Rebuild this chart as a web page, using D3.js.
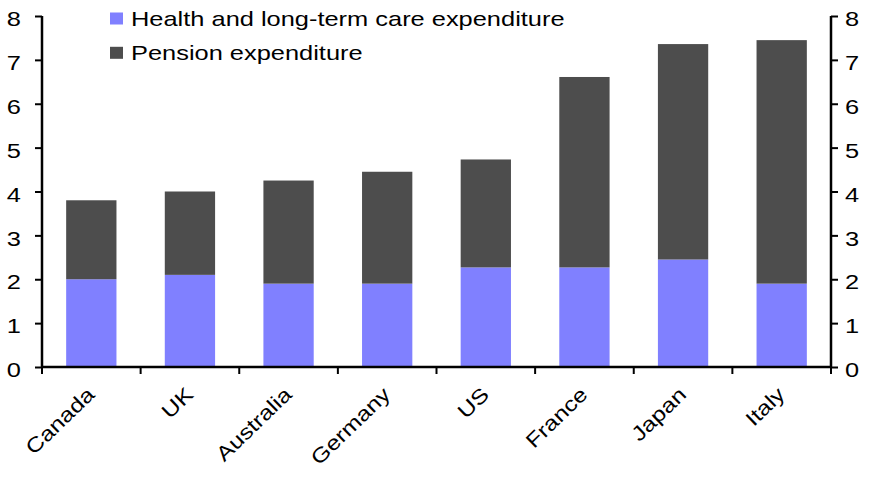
<!DOCTYPE html>
<html>
<head>
<meta charset="utf-8">
<script src="https://cdn.jsdelivr.net/npm/d3@7"></script>
<style>
  body { margin: 0; background: #fff; }
  svg text { font-family: "Liberation Sans", Arial, sans-serif; fill: #000; }
</style>
</head>
<body>
<div id="chart"></div>
<script>
// Chart data
var countries = ["Canada", "UK", "Australia", "Germany", "US", "France", "Japan", "Italy"];
var healthCare = [2.0, 2.1, 1.9, 1.9, 2.27, 2.27, 2.45, 1.9];
var pension = [1.8, 1.9, 2.35, 2.55, 2.46, 4.34, 4.91, 5.55];
var yTicks = [0, 1, 2, 3, 4, 5, 6, 7, 8];
var seriesNames = ["Health and long-term care expenditure", "Pension expenditure"];
var seriesColors = ["#8080ff", "#4d4d4d"];

var svgWidth = 874;
var svgHeight = 481;
var margin = { top: 16, right: 43, bottom: 114, left: 42 };
var width = svgWidth - margin.left - margin.right;
var height = svgHeight - margin.top - margin.bottom;

// the text in the original is wider than plain Arial
var stretch = 1.24;
var fontSize = 20.5;

var svg = d3.select("#chart")
  .append("svg")
  .attr("width", svgWidth)
  .attr("height", svgHeight);

var chartGroup = svg.append("g")
  .attr("transform", `translate(${margin.left}, ${margin.top})`);

var xScale = d3.scaleBand()
  .domain(countries)
  .range([0, width])
  .paddingInner(0.49)
  .paddingOuter(0.245);

var yScale = d3.scaleLinear()
  .domain([0, 8])
  .range([height, 0]);

// stack the two series
var rows = countries.map((c, i) => ({ country: c, health: healthCare[i], pension: pension[i] }));
var stacked = d3.stack().keys(["health", "pension"])(rows);

chartGroup.selectAll("g.series")
  .data(stacked)
  .enter()
  .append("g")
  .attr("class", "series")
  .attr("fill", (d, i) => seriesColors[i])
  .selectAll("rect")
  .data(d => d)
  .enter()
  .append("rect")
  .attr("x", d => xScale(d.data.country))
  .attr("width", xScale.bandwidth())
  .attr("y", d => yScale(d[1]))
  .attr("height", d => yScale(d[0]) - yScale(d[1]));

// left axis
var leftAxis = d3.axisLeft(yScale).tickValues(yTicks).tickSize(7).tickFormat(d3.format("d"));
var yAxisL = chartGroup.append("g").call(leftAxis);

// right axis
var rightAxis = d3.axisRight(yScale).tickValues(yTicks).tickSize(7).tickFormat(d3.format("d"));
var yAxisR = chartGroup.append("g")
  .attr("transform", `translate(${width}, 0)`)
  .call(rightAxis);

[yAxisL, yAxisR].forEach(a => {
  a.select(".domain").attr("stroke", "#000").attr("stroke-width", 2.5).attr("d", `M0,${height}V0`);
  a.selectAll(".tick line").attr("stroke", "#000").attr("stroke-width", 2);
  a.selectAll(".tick text")
    .attr("font-size", fontSize + "px")
    .attr("fill", "#000")
    .attr("x", 0)
    .attr("dy", "0.47em");
});
yAxisL.selectAll(".tick text").attr("transform", `translate(-21, 0) scale(${stretch}, 1)`);
yAxisR.selectAll(".tick text").attr("transform", `translate(14, 0) scale(${stretch}, 1)`);

// x axis: ticks at category boundaries
var xAxisG = chartGroup.append("g")
  .attr("transform", `translate(0, ${height})`);

xAxisG.append("line")
  .attr("x1", 0)
  .attr("x2", width)
  .attr("stroke", "#000")
  .attr("stroke-width", 2.5);

var step = xScale.step();
xAxisG.selectAll("line.tick")
  .data(d3.range(countries.length + 1))
  .enter()
  .append("line")
  .attr("class", "tick")
  .attr("x1", i => i * step)
  .attr("x2", i => i * step)
  .attr("y1", 0)
  .attr("y2", 7)
  .attr("stroke", "#000")
  .attr("stroke-width", 2);

xAxisG.selectAll("text.xlab")
  .data(countries)
  .enter()
  .append("text")
  .attr("class", "xlab")
  .attr("text-anchor", "end")
  .attr("font-size", fontSize + "px")
  .attr("transform", d => `translate(${xScale(d) + xScale.bandwidth() / 2 + 4.5}, 29) rotate(-44) scale(1.2, 1)`)
  .text(d => d);

// legend
var legend = svg.append("g")
  .attr("transform", "translate(110, 0)");

var legendItems = legend.selectAll("g")
  .data(seriesNames)
  .enter()
  .append("g")
  .attr("transform", (d, i) => `translate(0, ${18.5 + i * 34.3})`);

legendItems.append("rect")
  .attr("x", 0)
  .attr("y", -6)
  .attr("width", 13)
  .attr("height", 12)
  .attr("fill", (d, i) => seriesColors[i]);

legendItems.append("text")
  .attr("font-size", fontSize + "px")
  .attr("transform", `translate(21, 7.5) scale(${stretch}, 1)`)
  .text(d => d);
</script>
</body>
</html>
